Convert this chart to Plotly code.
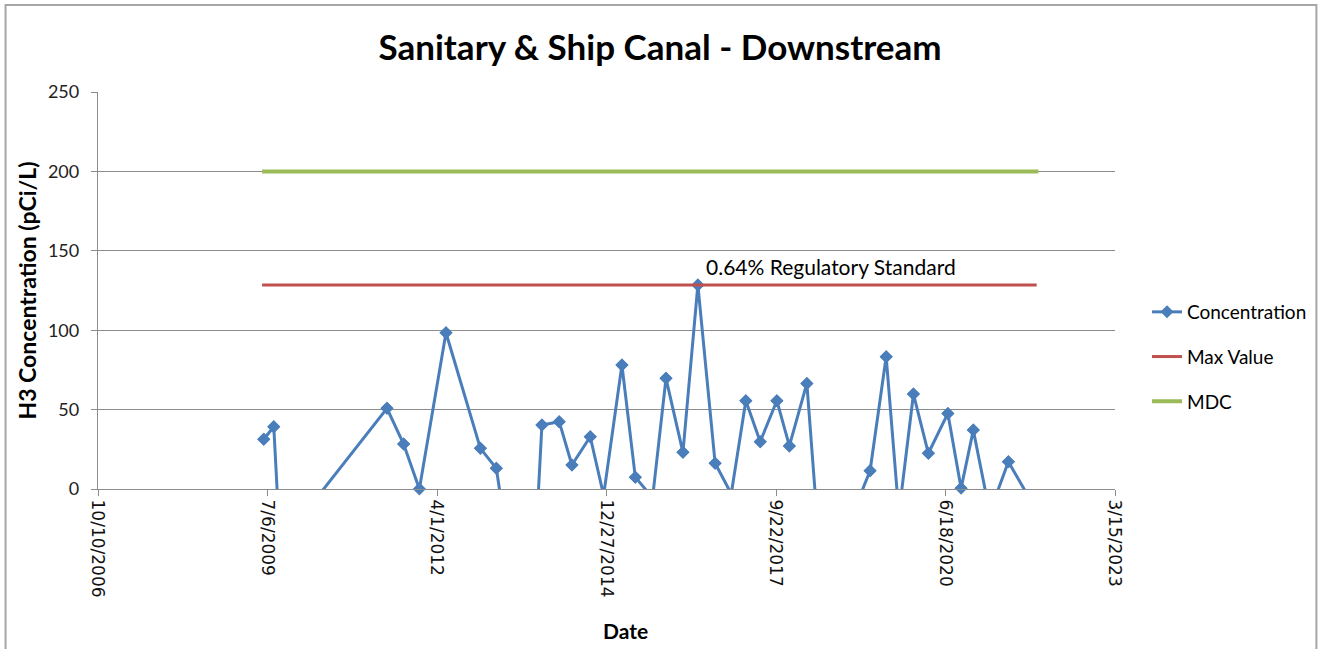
import plotly.graph_objects as go

dates = [
    "2009-06-14", "2009-08-12", "2009-09-18", "2011-06-11", "2011-09-17",
    "2011-12-19", "2012-05-24", "2012-12-13", "2013-03-17", "2013-06-07",
    "2013-10-15", "2013-12-11", "2014-03-23", "2014-06-06", "2014-09-22",
    "2014-12-10", "2015-03-28", "2015-06-15", "2015-09-25", "2015-12-13",
    "2016-03-22", "2016-06-18", "2016-09-28", "2017-01-01", "2017-03-28",
    "2017-06-21", "2017-09-27", "2017-12-10", "2018-03-23", "2018-06-21",
    "2018-12-03", "2019-03-31", "2019-07-04", "2019-09-17", "2019-12-12",
    "2020-03-09", "2020-07-02", "2020-09-18", "2020-11-29", "2021-03-06",
    "2021-06-24", "2021-09-30",
]
concentration = [
    31.3, 39.2, -35, 50.8, 28.3,
    0, 98.4, 25.6, 13.0, -45,
    -75, 40.3, 42.4, 15.1, 32.9,
    -4, 78.1, 7.4, -5.5, 69.7,
    23.1, 128.5, 16.2, -3, 55.6,
    29.8, 55.6, 27.1, 66.5, -60,
    -20, 11.5, 83.3, -15.6, 59.8,
    22.5, 47.6, 0.4, 37.1, -14.9,
    17.2, -1,
]
max_dates = ["2009-06-04", "2021-12-08"]
max_values = [128.5, 128.5]
mdc_dates = ["2009-06-04", "2021-12-18"]
mdc_values = [200, 200]

tick_dates = ["2006-10-10", "2009-07-06", "2012-04-01", "2014-12-27",
              "2017-09-22", "2020-06-18", "2023-03-15"]
tick_labels = ["10/10/2006", "7/6/2009", "4/1/2012", "12/27/2014",
               "9/22/2017", "6/18/2020", "3/15/2023"]
y_ticks = [0, 50, 100, 150, 200, 250]

title_text = "Sanitary & Ship Canal - Downstream"
x_title = "Date"
y_title = "H3 Concentration (pCi/L)"
annot_text = "0.64% Regulatory Standard"
annot_date = "2018-08-13"
annot_value = 140

BLUE = "#4A7EBB"
RED = "#C0504D"
GREEN = "#9BBB59"
GRID = "#8C8C8C"
FONT = "Lato"

fig = go.Figure()
fig.add_trace(go.Scatter(
    x=dates, y=concentration, mode="lines+markers", name="Concentration",
    line=dict(color=BLUE, width=3),
    marker=dict(symbol="diamond", size=10, color=BLUE),
    legendgroup="a",
))
nn_dates = [d for d, v in zip(dates, concentration) if v >= 0]
nn_vals = [v for v in concentration if v >= 0]
fig.add_trace(go.Scatter(
    x=nn_dates, y=nn_vals, mode="markers", showlegend=False, cliponaxis=False,
    marker=dict(symbol="diamond", size=10, color=BLUE), hoverinfo="skip",
))
fig.add_trace(go.Scatter(
    x=max_dates, y=max_values, mode="lines", name="Max Value",
    line=dict(color=RED, width=3), legendgroup="b",
))
fig.add_trace(go.Scatter(
    x=mdc_dates, y=mdc_values, mode="lines", name="MDC",
    line=dict(color=GREEN, width=4), legendgroup="c",
))

ml, mr, mt, mb = 97.5, 205, 92, 160
pw = 1320 - ml - mr
ph = 649 - mt - mb

fig.add_annotation(
    x=annot_date, y=annot_value, xref="x", yref="y", text=annot_text,
    showarrow=False, font=dict(family=FONT, size=21, color="#000000"),
)
fig.add_annotation(
    x=(625 - ml) / pw, y=(649 - mb - 630) / ph, xref="paper", yref="paper",
    xanchor="center", yanchor="middle",
    text="<b>" + x_title + "</b>", showarrow=False,
    font=dict(family=FONT, size=21, color="#000000"),
)

fig.add_shape(
    type="rect", xref="paper", yref="paper",
    x0=(5 - ml) / pw, x1=(1316.5 - ml) / pw,
    y0=(649 - mb - 5) / ph, y1=(649 - mb - 700) / ph,
    line=dict(color="#A6A6A6", width=2), fillcolor="rgba(0,0,0,0)", layer="below",
)

fig.update_layout(
    width=1320, height=649,
    margin=dict(l=ml, r=mr, t=mt, b=mb, pad=0, autoexpand=False),
    paper_bgcolor="white", plot_bgcolor="white",
    font=dict(family=FONT, color="#000000"),
    title=dict(text="<b>" + title_text + "</b>", x=0.5, xref="container", xanchor="center",
               y=1 - 48 / 649, yanchor="middle",
               font=dict(family=FONT, size=35, color="#000000")),
    showlegend=True,
    legend=dict(x=(1147 - ml) / pw, xanchor="left", y=(649 - mb - 357) / ph, yanchor="middle",
                font=dict(family=FONT, size=19, color="#000000"),
                tracegroupgap=17, bgcolor="rgba(0,0,0,0)"),
    xaxis=dict(
        type="date", range=[tick_dates[0], tick_dates[-1]],
        tickvals=tick_dates, ticktext=tick_labels, tickangle=90,
        ticks="outside", ticklen=6, tickcolor=GRID, tickwidth=1.3,
        showline=True, linecolor=GRID, linewidth=1.3,
        showgrid=False, zeroline=False,
        tickfont=dict(family="DejaVu Sans", size=17, color="#111111"),
    ),
    yaxis=dict(
        range=[0, 250], tickvals=y_ticks,
        ticks="outside", ticklen=6, tickcolor=GRID, tickwidth=1.3,
        showline=True, linecolor=GRID, linewidth=1.3,
        showgrid=True, gridcolor=GRID, gridwidth=1.3, zeroline=False,
        ticklabelstandoff=8,
        tickfont=dict(family=FONT, size=18, color="#222222"),
        title=dict(text="<b>" + y_title + "</b>",
                   font=dict(family=FONT, size=23, color="#000000"), standoff=4),
    ),
)

fig.write_html("out.html", config={"displayModeBar": False},
               post_script="document.body.style.margin='0';")
